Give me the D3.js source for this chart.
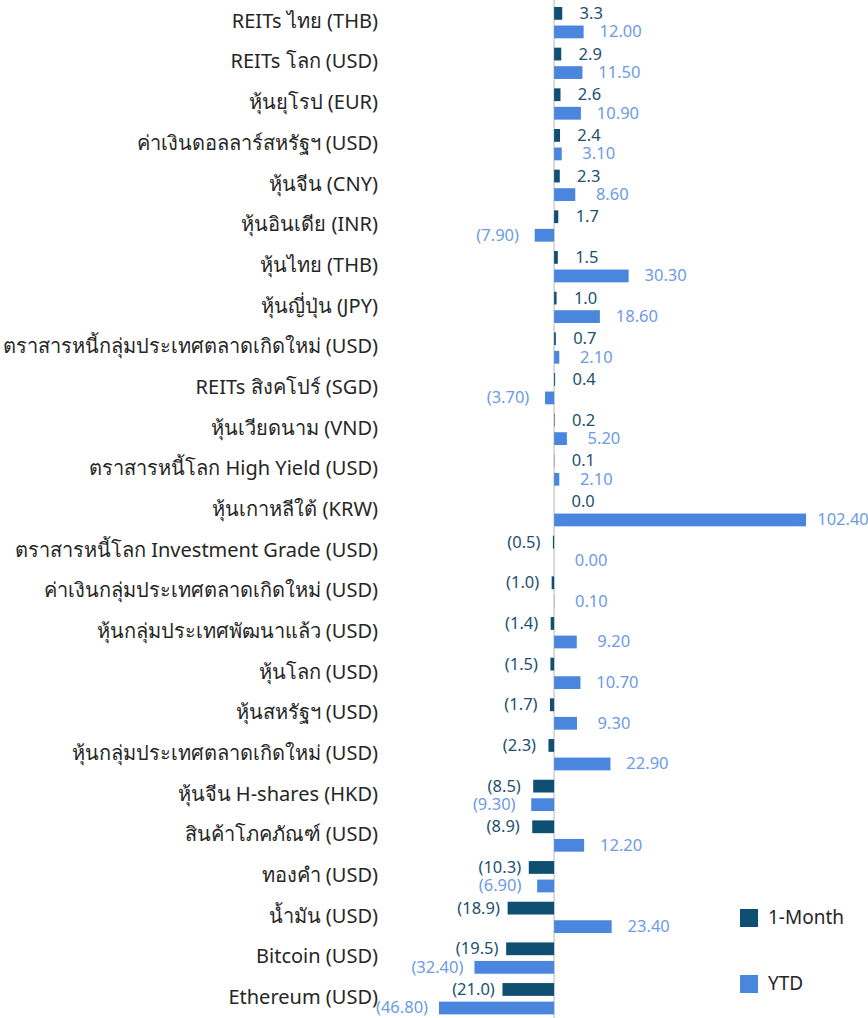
<!DOCTYPE html>
<html>
<head>
<meta charset="utf-8">
<script src="https://cdn.jsdelivr.net/npm/d3@7"></script>
<style>
	body { margin: 0; background: #fff; }
	svg { display: block; font-family: "Noto Sans", "Leelawadee UI", Tahoma, sans-serif; }
	.cat { fill: #262626; font-size: 20px; }
	.val { font-size: 16.5px; }
	.legend text { fill: #262626; font-size: 19px; }
</style>
</head>
<body>
<div id="chart"></div>
<script>
// categories, top to bottom
const categories = [
	'REITs ไทย (THB)',
	'REITs โลก (USD)',
	'หุ้นยุโรป (EUR)',
	'ค่าเงินดอลลาร์สหรัฐฯ (USD)',
	'หุ้นจีน (CNY)',
	'หุ้นอินเดีย (INR)',
	'หุ้นไทย (THB)',
	'หุ้นญี่ปุ่น (JPY)',
	'ตราสารหนี้กลุ่มประเทศตลาดเกิดใหม่ (USD)',
	'REITs สิงคโปร์ (SGD)',
	'หุ้นเวียดนาม (VND)',
	'ตราสารหนี้โลก High Yield (USD)',
	'หุ้นเกาหลีใต้ (KRW)',
	'ตราสารหนี้โลก Investment Grade (USD)',
	'ค่าเงินกลุ่มประเทศตลาดเกิดใหม่ (USD)',
	'หุ้นกลุ่มประเทศพัฒนาแล้ว (USD)',
	'หุ้นโลก (USD)',
	'หุ้นสหรัฐฯ (USD)',
	'หุ้นกลุ่มประเทศตลาดเกิดใหม่ (USD)',
	'หุ้นจีน H-shares (HKD)',
	'สินค้าโภคภัณฑ์ (USD)',
	'ทองคำ (USD)',
	'น้ำมัน (USD)',
	'Bitcoin (USD)',
	'Ethereum (USD)'
];
const oneMonth = [3.3, 2.9, 2.6, 2.4, 2.3, 1.7, 1.5, 1.0, 0.7, 0.4, 0.2, 0.1, 0.0,
	-0.5, -1.0, -1.4, -1.5, -1.7, -2.3, -8.5, -8.9, -10.3, -18.9, -19.5, -21.0];
const ytd = [12.00, 11.50, 10.90, 3.10, 8.60, -7.90, 30.30, 18.60, 2.10, -3.70, 5.20, 2.10, 102.40,
	0.00, 0.10, 9.20, 10.70, 9.30, 22.90, -9.30, 12.20, -6.90, 23.40, -32.40, -46.80];
const seriesNames = ['1-Month', 'YTD'];

const colours = { '1-Month': '#0e4f72', 'YTD': '#4a86de' };
const labelColours = { '1-Month': '#22506e', 'YTD': '#6d9be6' };
const labelOffset = { '1-Month': 29, 'YTD': 37 };

const width = 868, height = 1018;

const data = categories.map((c, i) => ({ cat: c, '1-Month': oneMonth[i], 'YTD': ytd[i] }));

const svg = d3.select('#chart')
	.append('svg')
	.attr('width', width)
	.attr('height', height);

const x = d3.scaleLinear()
	.domain([-46.8, 102.4])
	.range([439, 806]);

const y = d3.scaleBand()
	.domain(categories)
	.range([3, 3 + 40.67 * categories.length]);

const y1 = d3.scaleBand()
	.domain(seriesNames)
	.range([4, 35.3])
	.paddingInner(0.31);

const fmt = (key, v) => {
	const s = key === 'YTD' ? Math.abs(v).toFixed(2) : Math.abs(v).toFixed(1);
	return v < 0 ? `(${s})` : s;
};

// zero line
svg.append('line')
	.attr('x1', x(0)).attr('x2', x(0))
	.attr('y1', 0).attr('y2', height)
	.attr('stroke', '#d9d9d9')
	.attr('stroke-width', 2);

const rows = svg.selectAll('.row')
	.data(data)
	.join('g')
	.attr('class', 'row')
	.attr('transform', d => `translate(0, ${y(d.cat)})`);

// category labels
rows.append('text')
	.attr('class', 'cat')
	.attr('x', 378)
	.attr('y', y.bandwidth() / 2 - 3)
	.attr('text-anchor', 'end')
	.attr('dominant-baseline', 'central')
	.text(d => d.cat);

seriesNames.forEach(key => {
	rows.append('rect')
		.attr('x', d => x(Math.min(0, d[key])))
		.attr('y', y1(key))
		.attr('width', d => Math.abs(x(d[key]) - x(0)))
		.attr('height', y1.bandwidth())
		.attr('fill', colours[key]);

	rows.append('text')
		.attr('class', 'val')
		.attr('x', d => x(d[key]) + (d[key] < 0 ? -labelOffset[key] : labelOffset[key]))
		.attr('y', y1(key) + y1.bandwidth() / 2 - 1)
		.attr('text-anchor', 'middle')
		.attr('dominant-baseline', 'central')
		.attr('fill', labelColours[key])
		.text(d => fmt(key, d[key]));
});

// legend
const legend = svg.append('g')
	.attr('class', 'legend')
	.selectAll('g')
	.data(seriesNames)
	.join('g')
	.attr('transform', (d, i) => `translate(740, ${909 + i * 66})`);

legend.append('rect')
	.attr('width', 18)
	.attr('height', 18)
	.attr('fill', d => colours[d]);

legend.append('text')
	.attr('x', 28)
	.attr('y', 8)
	.attr('dominant-baseline', 'central')
	.text(d => d);
</script>
</body>
</html>
